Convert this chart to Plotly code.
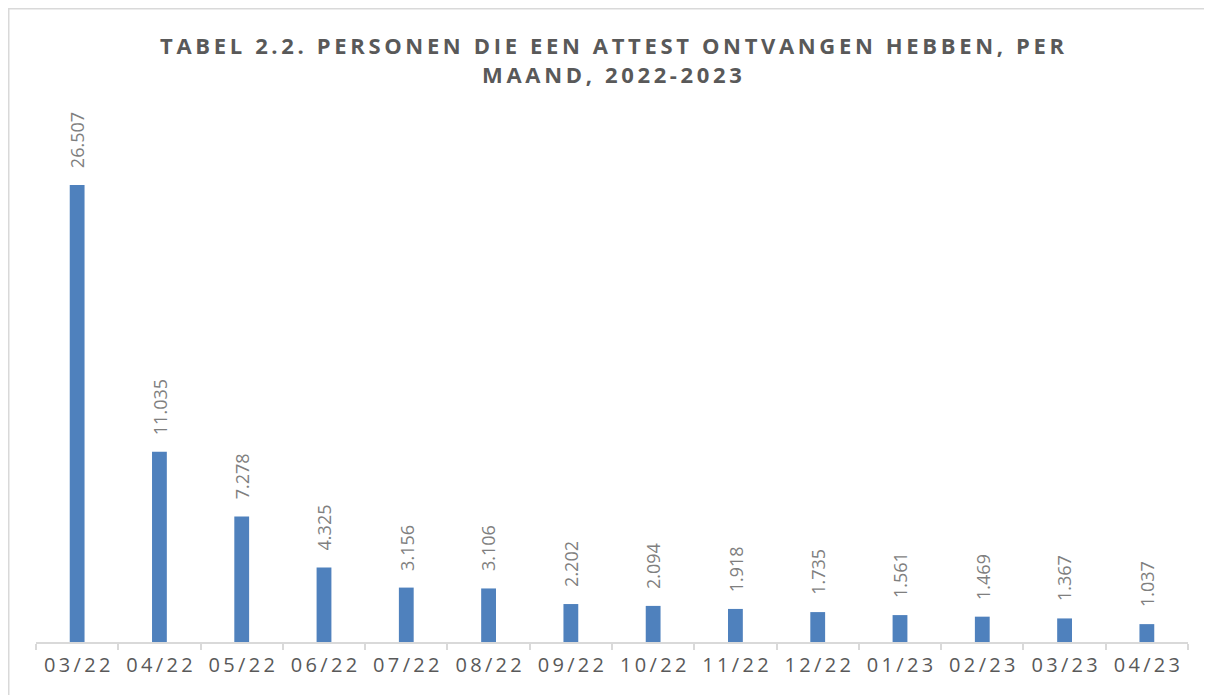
import plotly.graph_objects as go

months = ["03/22", "04/22", "05/22", "06/22", "07/22", "08/22", "09/22",
          "10/22", "11/22", "12/22", "01/23", "02/23", "03/23", "04/23"]
values = [26507, 11035, 7278, 4325, 3156, 3106, 2202, 2094, 1918, 1735,
          1561, 1469, 1367, 1037]
value_labels = ["26.507", "11.035", "7.278", "4.325", "3.156", "3.106", "2.202",
                "2.094", "1.918", "1.735", "1.561", "1.469", "1.367", "1.037"]
title_lines = ["TABEL 2.2. PERSONEN DIE EEN ATTEST ONTVANGEN HEBBEN, PER",
               "MAAND, 2022-2023"]

SP = "\u2009"


def spaced(s, sep=SP):
    return sep.join(list(s))


tick_text = [spaced(m, "\u2009") for m in months]
title_text = "<br>".join(spaced(t, "\u2009") for t in title_lines)

W, H = 1204, 687
L, R, T, B = 28, 24, 92, 53

fig = go.Figure()
fig.add_trace(go.Bar(
    x=months,
    y=values,
    marker=dict(color="#4F81BD", line=dict(width=0)),
    hoverinfo="x+y",
))

for m, v, lab in zip(months, values, value_labels):
    fig.add_annotation(
        x=m, y=v, text=lab, textangle=-90, showarrow=False,
        xanchor="center", yanchor="bottom", yshift=15,
        font=dict(family="Open Sans", size=18, color="#7F7F7F"),
    )

fig.update_layout(
    width=W, height=H,
    paper_bgcolor="white", plot_bgcolor="white",
    margin=dict(l=L, r=R, t=T, b=B),
    bargap=0.82,
    showlegend=False,
    title=dict(
        text=title_text,
        x=0.5, xanchor="center", xref="paper",
        yref="container", y=1 - 46 / H, yanchor="middle",
        font=dict(family="Open Sans", size=22, color="#595959", weight="bold"),
    ),
    xaxis=dict(
        type="category",
        tickmode="array", tickvals=months, ticktext=tick_text,
        showline=True, linecolor="#D9D9D9", linewidth=1.5,
        ticks="outside", tickson="boundaries", ticklen=6,
        tickcolor="#D9D9D9", tickwidth=1.5,
        tickfont=dict(family="Open Sans", size=20, color="#595959"),
        ticklabelstandoff=4,
        showgrid=False, zeroline=False,
    ),
    yaxis=dict(
        range=[0, 31437], visible=False, showgrid=False, zeroline=False,
    ),
)

pw = W - L - R
ph = H - T - B
fig.add_shape(
    type="rect", xref="paper", yref="paper",
    x0=(0.75 - L) / pw, x1=(W + 20 - L) / pw,
    y0=-(B + 20) / ph, y1=(ph + T - 0.75) / ph,
    line=dict(color="#D9D9D9", width=1.5), fillcolor="rgba(0,0,0,0)",
    layer="below",
)

fig.write_html("out.html")
